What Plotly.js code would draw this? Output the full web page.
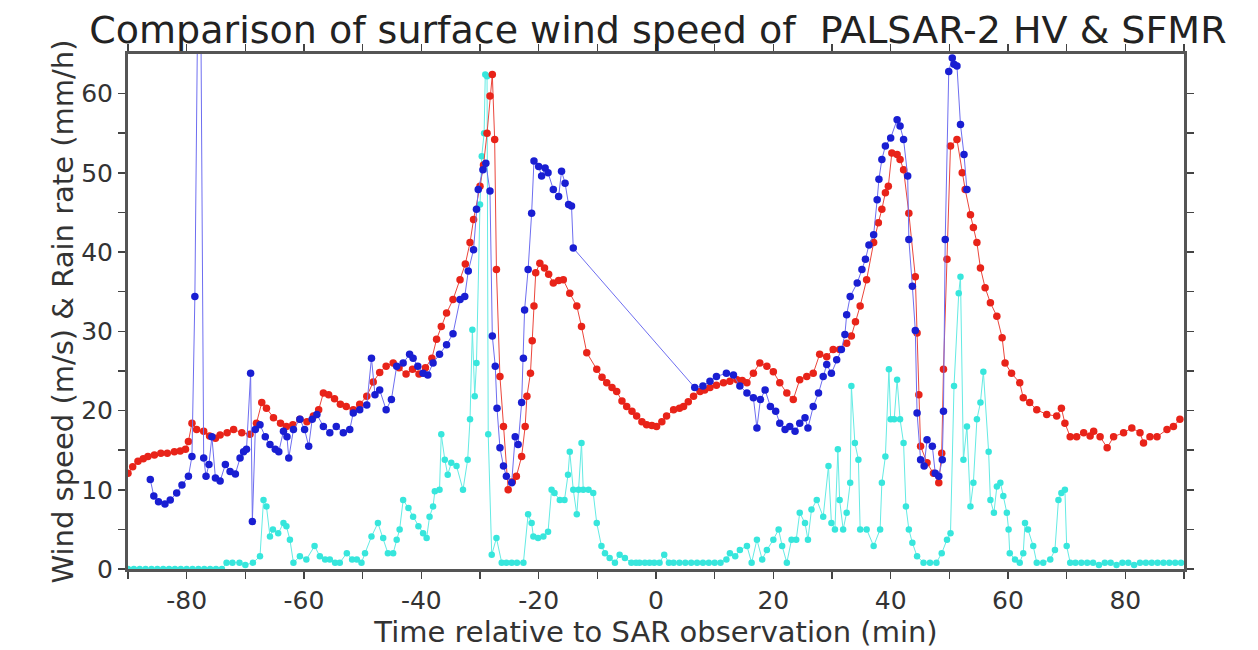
<!DOCTYPE html>
<html>
<head>
<meta charset="utf-8">
<script src="https://cdn.plot.ly/plotly-3.0.1.min.js"></script>
<style>html,body{margin:0;padding:0;background:#fff;}#chart{width:1258px;height:650px;}</style>
</head>
<body>
<div id="chart"></div>
<script>
// SFMR wind speed (red)
const sfmrTime = [-90,-89.2,-88.3,-87.4,-86.6,-85.5,-84.4,-83.3,-82.1,-81.1,-80.2,-79.7,-79.1,-78.3,-77.1,-76.1,-75.1,-74.3,-73.1,-72.0,-70.6,-69.2,-68.1,-67.2,-66.4,-65.2,-64.0,-63.0,-61.9,-60.7,-59.5,-58.4,-57.5,-56.7,-55.8,-54.8,-53.8,-52.8,-51.6,-50.5,-49.3,-48.2,-47.1,-46.0,-44.8,-43.8,-42.6,-41.5,-40.4,-39.3,-38.2,-37.4,-36.6,-35.7,-34.6,-33.4,-32.5,-31.7,-31.1,-30.0,-29.4,-28.8,-28.3,-27.9,-27.5,-27.2,-26.6,-26.0,-25.2,-24.5,-23.8,-22.9,-22.3,-22.0,-21.4,-21.1,-20.8,-20.5,-19.8,-19.0,-18.3,-17.5,-16.6,-15.8,-14.7,-13.5,-12.7,-11.8,-10.1,-9.2,-8.4,-7.5,-6.7,-5.8,-5.0,-4.1,-3.3,-2.4,-1.6,-0.7,0.1,1.0,1.8,3.0,4.0,4.7,5.5,6.4,7.5,8.3,9.2,10.3,11.5,12.6,13.8,14.7,15.5,16.6,17.7,18.9,20.0,21.1,22.3,23.4,24.5,25.7,26.8,27.9,29.1,30.2,31.3,32.5,33.3,34.0,34.8,35.9,37.1,37.9,38.5,39.1,39.6,40.2,41.1,41.6,42.2,43.1,44.2,44.5,44.8,45.1,46.2,47.3,48.2,48.7,49.0,49.6,50.2,51.3,52.2,52.7,53.6,54.1,54.7,55.3,56.1,57.0,58.1,59.0,59.5,60.6,62.0,62.6,63.7,64.9,66.6,68.3,69.1,69.7,70.6,71.7,72.9,74.0,74.6,75.7,76.9,78.0,79.7,81.1,82.5,83.1,84.2,85.4,87.1,88.2,89.3];
const sfmrWind = [12.1,12.9,13.6,13.9,14.2,14.4,14.6,14.6,14.8,14.9,15.1,16.1,18.4,17.6,17.4,16.8,16.5,16.9,17.2,17.6,17.2,17.0,18.4,21.0,20.3,19.1,18.4,18.0,18.2,18.9,18.6,19.3,20.1,22.2,22.0,21.5,20.8,20.5,20.1,20.8,21.8,23.6,24.8,25.6,26.0,25.4,24.6,25.2,24.6,25.4,26.6,29.0,30.6,32.3,34.0,36.5,38.5,41.2,44.1,48.3,51.0,55.0,59.7,62.4,54.2,37.8,24.3,18.0,10.0,11.0,11.7,14.2,18.0,21.8,24.7,28.8,33.2,37.4,38.6,38.0,37.2,36.1,36.4,36.5,34.8,33.2,30.6,27.3,25.2,24.2,23.5,22.9,22.4,21.2,20.5,19.9,19.3,18.6,18.2,18.1,18.0,18.6,19.3,20.1,20.3,20.5,21.1,21.8,22.4,22.6,22.9,23.2,23.5,23.7,23.9,23.8,23.5,24.7,26.0,25.6,24.9,23.5,22.2,21.4,23.9,24.3,24.7,27.1,26.8,27.7,27.7,28.5,29.4,31.2,33.2,36.5,41.2,43.7,45.4,47.5,48.3,52.5,52.3,51.7,50.4,44.9,36.9,29.8,22.0,15.5,13.4,12.1,10.9,14.6,25.2,39.1,53.4,54.2,50.0,47.9,44.7,43.1,41.2,38.0,35.5,33.6,31.9,29.2,26.0,24.7,23.5,21.6,21.0,20.1,19.5,19.3,20.3,18.4,16.7,16.7,17.2,16.8,17.4,16.7,15.3,16.7,17.2,17.8,17.2,15.9,16.7,16.7,17.6,18.0,18.9];

// PALSAR-2 HV wind speed (blue)
const sarTime = [-86.2,-85.6,-84.8,-83.7,-82.8,-81.7,-80.8,-79.7,-79.1,-78.6,-77.8,-77.1,-76.7,-76.2,-75.7,-75.1,-74.3,-73.4,-72.6,-71.7,-70.9,-70.3,-69.8,-69.1,-68.8,-68.3,-67.5,-66.6,-65.8,-64.9,-64.3,-63.5,-62.9,-62.6,-61.8,-60.7,-59.9,-59.2,-58.6,-57.8,-56.7,-55.6,-54.5,-53.3,-52.2,-51.6,-50.5,-49.3,-48.5,-47.9,-47.1,-46.0,-45.1,-44.2,-43.1,-42.0,-41.4,-40.6,-39.7,-38.9,-38.0,-36.9,-35.7,-34.6,-33.4,-32.6,-32.0,-31.1,-30.6,-30.3,-29.5,-29.0,-28.3,-27.9,-27.4,-27.1,-26.6,-26.0,-25.5,-24.6,-24.0,-23.5,-22.9,-22.6,-22.4,-21.8,-21.2,-20.8,-20.0,-19.5,-18.9,-18.4,-17.5,-16.6,-16.1,-15.5,-14.9,-14.4,-14.1,6.6,8.0,9.2,10.3,12.0,13.2,14.3,15.5,16.6,17.2,17.8,18.6,19.5,20.4,21.1,22.0,22.8,23.7,24.5,25.4,25.9,26.8,27.7,28.5,29.1,29.9,30.8,31.6,32.2,32.5,33.1,34.3,35.1,35.7,36.3,37.1,37.7,38.0,38.5,39.1,40.0,41.1,41.6,42.2,42.9,43.1,43.7,44.2,44.5,45.1,45.7,46.2,47.1,47.6,48.2,48.8,49.0,49.3,49.9,50.5,50.8,51.3,51.9,52.5,53.0];
const sarWind = [11.3,9.2,8.5,8.2,8.7,9.6,10.6,11.7,14.2,34.4,95,14.0,11.7,13.2,16.7,11.5,11.1,13.2,12.3,12.0,14.0,14.8,15.1,24.7,6.0,17.6,18.2,16.7,15.7,15.1,14.8,17.4,16.7,14.0,17.6,18.9,17.6,15.5,18.9,19.5,18.0,17.2,18.0,17.2,17.6,19.7,20.1,20.7,26.6,22.0,22.6,20.1,21.4,25.6,26.0,27.1,26.6,25.6,24.7,24.5,26.0,27.1,28.3,29.7,34.0,34.4,37.6,40.3,45.4,47.9,50.4,51.2,47.7,29.4,25.6,20.3,15.3,13.0,11.7,10.9,16.7,15.7,21.0,26.6,32.7,37.8,44.9,51.5,50.8,49.6,50.6,50.0,47.9,47.0,50.2,48.7,46.0,45.8,40.5,22.9,23.1,23.7,24.3,24.7,24.5,23.1,22.2,21.6,17.8,21.4,22.6,20.5,19.9,18.4,17.6,18.0,17.4,18.4,19.1,17.8,20.5,22.2,24.3,25.8,24.7,26.4,27.7,29.6,32.1,34.4,36.1,37.8,39.1,40.9,42.2,46.6,49.2,51.7,53.4,54.4,56.7,55.9,54.2,49.6,41.6,35.7,30.1,19.7,13.8,13.0,16.3,15.5,12.1,11.7,13.8,19.9,41.6,62.8,64.5,63.7,63.5,56.1,52.3,47.9];

// SFMR rain rate (cyan)
const rainTime = [-90,-89,-88,-87,-86,-85,-84,-83,-82,-81,-80,-79,-78,-77,-76,-75,-74,-73.2,-72.2,-71,-70,-68.7,-67.5,-66.9,-66.4,-65.8,-65.3,-64.4,-63.5,-63,-62.4,-61.8,-60.7,-59.6,-58.2,-57.3,-56.4,-55.6,-54.7,-53.9,-52.7,-51.8,-51.0,-50.2,-49.6,-48.5,-47.4,-46.5,-45.7,-44.8,-44.2,-43.7,-43.1,-42.2,-41.4,-40.5,-39.7,-39.1,-38.6,-38.0,-37.7,-36.9,-36.6,-36.0,-35.5,-34.9,-34.0,-32.9,-32.1,-31.7,-31.3,-30.9,-30.6,-30.0,-29.7,-29.3,-29.1,-28.8,-28.6,-28.0,-27.2,-26.3,-25.5,-24.6,-23.7,-22.6,-21.8,-21.2,-20.9,-20.1,-19.2,-18.4,-17.8,-17.3,-16.4,-15.6,-15.0,-14.7,-14.1,-13.5,-13.2,-12.7,-12.4,-11.5,-10.7,-10.1,-9.3,-8.7,-7.9,-7.0,-6.2,-5.3,-4.2,-3.4,-2.8,-1.9,-1.1,-0.3,0.6,1.4,2.2,3.0,4.0,5.0,6.0,7.0,8.0,9.0,10.0,11.0,12.0,12.6,13.5,14.3,15.5,16.3,17.2,18.1,18.9,20.0,20.9,21.5,22.3,23.1,23.9,24.5,25.4,25.9,26.5,27.4,28.5,29.4,29.9,30.5,31.0,31.3,31.9,32.5,33.1,33.3,33.9,34.5,34.8,35.9,37.1,38.2,38.5,39.1,39.7,40.0,40.6,41.1,41.6,42.2,42.6,43.1,43.7,44.5,45.6,46.7,47.8,48.7,49.6,50.2,50.8,51.6,51.9,52.4,53.0,53.6,54.1,54.7,55.3,55.8,56.7,57.0,57.6,58.1,58.7,59.2,59.8,60.1,60.3,61.2,62.0,62.6,62.9,63.4,64.3,64.9,66.0,67.2,68.0,68.6,69.1,69.7,70.0,70.6,71.5,72.5,73.5,74.5,75.5,76.5,77.5,78.5,79.5,80.5,81.5,82.5,83.5,84.5,85.5,86.5,87.5,88.5,89.5];
const rainRate = [0,0,0,0,0,0,0,0,0,0,0,0,0,0,0,0,0,0.8,0.8,0.8,0.5,0.8,1.6,8.7,7.9,4.1,5.0,4.5,5.8,5.4,3.7,0.8,1.6,1.2,2.9,1.6,1.2,1.2,0.8,0.8,2.0,1.2,1.2,0.8,2.0,4.1,5.8,3.9,2.0,2.0,3.7,5.0,8.7,7.7,6.6,5.4,4.5,3.9,6.6,7.9,9.8,10.0,17.0,13.8,11.9,13.4,13.0,10.0,13.8,18.9,30.2,21.8,26.0,46.0,52.1,55.0,62.4,62.2,17.0,1.8,3.9,0.8,0.8,0.8,0.8,0.8,6.9,5.8,4.1,3.9,4.1,4.7,10.0,9.6,8.7,8.7,11.9,14.8,10.0,6.9,10.0,15.9,10.0,10.0,9.6,5.8,2.9,2.0,1.4,0.8,1.8,1.4,0.8,0.8,0.8,0.8,0.8,0.8,0.8,1.8,0.8,0.8,0.8,0.8,0.8,0.8,0.8,0.8,0.8,0.8,1.2,2.0,1.6,2.4,2.9,0.8,3.7,1.2,2.4,3.7,5.0,2.9,0.8,3.7,3.7,7.1,5.8,3.7,7.5,8.7,6.6,13.0,5.8,5.0,15.1,8.7,5.0,7.1,10.9,23.1,15.9,13.8,5.0,5.0,2.9,5.0,10.9,14.2,25.2,18.9,18.9,23.9,18.9,15.9,7.9,5.0,3.3,1.6,0.8,0.8,0.8,2.0,3.7,4.5,23.1,34.8,36.9,13.8,18.0,7.9,10.9,18.9,21.0,24.9,14.8,8.7,7.1,10.4,10.9,9.2,7.1,5.0,2.0,1.2,0.8,2.0,5.8,5.0,2.9,0.8,0.8,1.2,2.4,8.7,9.6,10.0,2.9,0.8,0.8,0.8,0.8,0.8,0.5,0.8,0.8,0.5,0.8,0.8,0.5,0.8,0.8,0.8,0.8,0.8,0.8,0.8,0.8];

const xTickVals = [-90,-80,-70,-60,-50,-40,-30,-20,-10,0,10,20,30,40,50,60,70,80,90];
const xTickText = ['','-80','','-60','','-40','','-20','','0','','20','','40','','60','','80',''];
const yTickVals = [0,5,10,15,20,25,30,35,40,45,50,55,60];
const yTickText = ['0','','10','','20','','30','','40','','50','','60'];

const FONT = 'DejaVu Sans, sans-serif';
const traces = [
  {x: rainTime, y: rainRate, type: 'scatter', mode: 'lines+markers', name: 'Rain rate',
   line: {color: 'rgb(100,235,228)', width: 1}, marker: {color: 'rgb(55,230,220)', size: 6.5}},
  {x: sfmrTime, y: sfmrWind, type: 'scatter', mode: 'lines+markers', name: 'SFMR',
   line: {color: 'rgb(235,70,60)', width: 1}, marker: {color: 'rgb(232,35,25)', size: 7.5}},
  {x: sarTime, y: sarWind, type: 'scatter', mode: 'lines+markers', name: 'PALSAR-2 HV',
   line: {color: 'rgb(110,110,240)', width: 1}, marker: {color: 'rgb(25,30,210)', size: 7.5}}
];
const axisCommon = {
  showgrid: false, zeroline: false, showline: true, linecolor: '#555', linewidth: 3,
  mirror: 'ticks', ticks: 'outside', ticklen: 7, tickwidth: 1.5, tickcolor: '#444',
  tickfont: {family: FONT, size: 25, color: '#333'}
};
const layout = {
  width: 1258, height: 650,
  margin: {l: 128, r: 74, t: 54, b: 81},
  paper_bgcolor: '#fff', plot_bgcolor: '#fff',
  showlegend: false,
  title: {text: 'Comparison of surface wind speed of  PALSAR-2 HV &amp; SFMR',
          font: {family: FONT, size: 38, color: '#222'}, x: 0.523, xanchor: 'center', y: 0.955, yanchor: 'middle'},
  xaxis: Object.assign({}, axisCommon, {range: [-90, 90], tickmode: 'array', tickvals: xTickVals, ticktext: xTickText,
    title: {text: 'Time relative to SAR observation (min)', font: {family: FONT, size: 29, color: '#333'}, standoff: 2}}),
  yaxis: Object.assign({}, axisCommon, {range: [0, 65], tickmode: 'array', tickvals: yTickVals, ticktext: yTickText,
    title: {text: 'Wind speed (m/s) &amp; Rain rate (mm/h)', font: {family: FONT, size: 29, color: '#333'}, standoff: 0}})
};
Plotly.newPlot('chart', traces, layout, {displayModeBar: false, staticPlot: true});
</script>
</body>
</html>
